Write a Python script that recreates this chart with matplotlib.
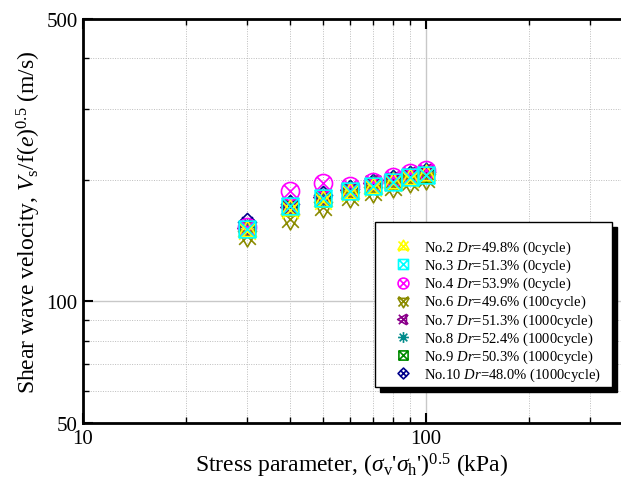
import numpy as np
import matplotlib
matplotlib.use("Agg")
import matplotlib.pyplot as plt
from matplotlib.path import Path
from matplotlib.patches import Rectangle
from matplotlib.ticker import LogLocator, NullFormatter, FixedLocator, FixedFormatter

plt.rcParams['font.family'] = ['Liberation Serif', 'DejaVu Serif']
plt.rcParams['mathtext.fontset'] = 'custom'
plt.rcParams['mathtext.rm'] = 'Liberation Serif'
plt.rcParams['mathtext.it'] = 'Liberation Serif:italic'

# stress parameter (kPa)
stress = [30, 40, 50, 60, 70, 80, 90, 100]

# Vs / f(e)^0.5 (m/s) for each test
vs_no2 = [149, 168, 177, 186, 191, 196, 201, 205]
vs_no3 = [151, 172, 180, 188, 193, 198, 203, 206]
vs_no4 = [153, 188, 196, 193, 198, 203, 208, 211]
vs_no6 = [145, 160, 171, 181, 187, 192, 197, 201]
vs_no7 = [152, 171, 181, 189, 196, 200, 205, 209]
vs_no8 = [153, 172, 181, 190, 196, 201, 206, 210]
vs_no9 = [151, 170, 179, 188, 194, 199, 203, 207]
vs_no10 = [157, 174, 183, 190, 196, 201, 206, 209]

labels = ["No.2 $\\it{Dr}$=49.8% (0cycle)",
          "No.3 $\\it{Dr}$=51.3% (0cycle)",
          "No.4 $\\it{Dr}$=53.9% (0cycle)",
          "No.6 $\\it{Dr}$=49.6% (100cycle)",
          "No.7 $\\it{Dr}$=51.3% (1000cycle)",
          "No.8 $\\it{Dr}$=52.4% (1000cycle)",
          "No.9 $\\it{Dr}$=50.3% (1000cycle)",
          "No.10 $\\it{Dr}$=48.0% (1000cycle)"]
colors = ['#ffff00', '#00ffff', '#ff00ff', '#8b8b00',
          '#8b008b', '#008b8b', '#008b00', '#00008b']


# outline + cross marker paths
def cross(s=1.0):
    return Path([(-s, -s), (s, s), (-s, s), (s, -s)],
                [Path.MOVETO, Path.LINETO, Path.MOVETO, Path.LINETO])


def combo(p, s=0.75):
    return Path.make_compound_path(p, cross(s))


circ = Path.circle((0, 0), 1.0)
sq = Path([(-1, -1), (1, -1), (1, 1), (-1, 1), (-1, -1)], closed=True)
tri_up = Path.unit_regular_polygon(3)
tri_dn = Path(tri_up.vertices * [1, -1], tri_up.codes)
tri_lf = Path(tri_up.vertices[:, ::-1] * [-1, 1], tri_up.codes)
plus = Path([(-1.2, 0), (1.2, 0), (0, -1.2), (0, 1.2)],
            [Path.MOVETO, Path.LINETO, Path.MOVETO, Path.LINETO])
diamond = Path([(0, -1), (1, 0), (0, 1), (-1, 0), (0, -1)], closed=True)

markers = [combo(tri_up, 0.8), combo(sq, 1.0), combo(circ, 0.7), combo(tri_dn, 0.8),
           combo(tri_lf, 0.8), Path.make_compound_path(plus, cross(0.85)),
           combo(sq, 1.0), combo(diamond, 0.6)]
sizes = [15, 12, 13, 15, 14, 13, 11, 13]
series = [vs_no2, vs_no3, vs_no4, vs_no6, vs_no7, vs_no8, vs_no9, vs_no10]
zorders = [9, 10, 7, 8, 6, 5, 4, 3]

fig = plt.figure(figsize=(6.21, 4.89), dpi=100)
ax = fig.add_axes([83 / 621, 1 - 424 / 489, 538 / 621, 404 / 489])

handles = []
for y, c, m, s, lab, z in zip(series, colors, markers, sizes, labels, zorders):
    h, = ax.plot(stress, y, linestyle='none', marker=m, markersize=s,
                 markerfacecolor='none', markeredgecolor=c, markeredgewidth=1.2,
                 label=lab, zorder=z)
    handles.append(h)

ax.set_xscale('log')
ax.set_yscale('log')
ax.set_xlim(10, 10 ** (1 + 538 / 343))
ax.set_ylim(50, 500)

ax.xaxis.set_major_locator(FixedLocator([10, 100, 1000]))
ax.xaxis.set_major_formatter(FixedFormatter(['10', '100', '1000']))
ax.xaxis.set_minor_locator(LogLocator(base=10, subs=np.arange(2, 10)))
ax.xaxis.set_minor_formatter(NullFormatter())
ax.yaxis.set_major_locator(FixedLocator([50, 100, 500]))
ax.yaxis.set_major_formatter(FixedFormatter(['50', '100', '500']))
ax.yaxis.set_minor_locator(FixedLocator([60, 70, 80, 90, 200, 300, 400]))
ax.yaxis.set_minor_formatter(NullFormatter())

ax.grid(True, which='major', color='#c8c8c8', linestyle='-', linewidth=1.0)
ax.grid(True, which='minor', color='#bdbdbd', linestyle=(0, (1, 1.5)), linewidth=0.7)
ax.set_axisbelow(True)

ax.tick_params(which='both', direction='in', top=True, right=False,
               labelsize=15, pad=4)
ax.tick_params(which='major', length=7, width=1.5)
ax.tick_params(which='minor', length=4, width=1.0)
for side in ['left', 'bottom', 'top']:
    ax.spines[side].set_linewidth(2)
ax.spines['right'].set_visible(False)

ax.set_xlabel("Stress parameter, ($\\it{\\sigma}_{\\rm v}$'$\\it{\\sigma}_{\\rm h}$')$^{0.5}$ (kPa)",
              fontsize=17, labelpad=2)
ax.set_ylabel("Shear wave velocity, $\\it{V}_{\\rm s}$/f($\\it{e}$)$^{0.5}$ (m/s)",
              fontsize=17, labelpad=2)

# legend box with solid shadow
bx, by, bw, bh = 0.543, 0.089, 0.44, 0.4085
ax.add_patch(Rectangle((bx + 0.0093, by - 0.0124), bw, bh, transform=ax.transAxes,
                       facecolor='black', edgecolor='black', zorder=20, clip_on=False))
ax.add_patch(Rectangle((bx, by), bw, bh, transform=ax.transAxes,
                       facecolor='white', edgecolor='black', linewidth=1.0, zorder=21,
                       clip_on=False))
leg = ax.legend(handles=handles, loc='upper left', bbox_to_anchor=(0.563, 0.481),
                frameon=False, fontsize=10.5, labelspacing=0.05, handlelength=1.0,
                handleheight=0.5, handletextpad=0.9, borderpad=0.2, markerscale=0.6)
leg.set_zorder(22)

fig.savefig('out.png', dpi=100)
